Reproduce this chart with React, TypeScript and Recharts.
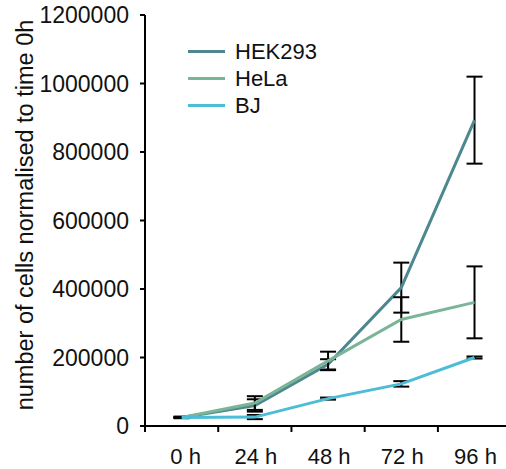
import React from "react";
import { LineChart, Line, XAxis, YAxis, ErrorBar } from "recharts";

const categories = ["0 h", "24 h", "48 h", "72 h", "96 h"];
const hek293 = [25000, 60000, 180000, 404000, 893000];
const hek293Err = [2000, 18000, 15000, 73000, 127000];
const hela = [25000, 67000, 190000, 311000, 361000];
const helaErr = [2000, 20000, 27000, 65000, 105000];
const bj = [25000, 26000, 80000, 123000, 200000];
const bjErr = [1000, 6000, 3000, 8000, 3000];
const yTicks = [0, 200000, 400000, 600000, 800000, 1000000, 1200000];

const series = [
  { key: "hek293", name: "HEK293", color: "#4d8790" },
  { key: "hela", name: "HeLa", color: "#7ab596" },
  { key: "bj", name: "BJ", color: "#4cbcd7" },
];

const data = categories.map((c, i) => ({
  x: i + 0.5,
  label: c,
  hek293: hek293[i],
  hek293Err: hek293Err[i],
  hela: hela[i],
  helaErr: helaErr[i],
  bj: bj[i],
  bjErr: bjErr[i],
}));

const WIDTH = 506;
const HEIGHT = 469;
const AXIS_X = 145;
const X_MAX = 4.93;
const FONT = "'Liberation Sans', Arial, sans-serif";
const halfStep = (WIDTH - AXIS_X) / X_MAX / 2;

// tick marks sit on category boundaries, labels in the middle of each category
const XTick = (props: any) => {
  const { x, y, payload } = props;
  const label = categories[payload.value];
  if (!label) return null;
  return (
    <text
      x={x + halfStep + (payload.value === 0 ? 4 : 1)}
      y={y + 30}
      textAnchor="middle"
      fontSize={22}
      fontFamily={FONT}
      fill="#111"
    >
      {label}
    </text>
  );
};

const ChartLegend = () => (
  <div
    style={{
      position: "absolute",
      left: 188,
      top: 38,
      fontFamily: FONT,
      fontSize: 22,
      color: "#111",
    }}
  >
    {series.map((s) => (
      <div key={s.key} style={{ display: "flex", alignItems: "center", height: 27 }}>
        <div style={{ width: 37, height: 3, background: s.color, marginRight: 10 }} />
        <span>{s.name}</span>
      </div>
    ))}
  </div>
);

export default function App() {
  return (
    <div style={{ position: "absolute", left: 0, top: 0, width: WIDTH, height: HEIGHT, overflow: "hidden", background: "#fff" }}>
      <LineChart width={WIDTH} height={HEIGHT} data={data} margin={{ top: 15, right: 0, left: 0, bottom: 0 }}>
        <XAxis
          dataKey="x"
          type="number"
          domain={[0, X_MAX]}
          ticks={[0, 1, 2, 3, 4]}
          tick={<XTick />}
          tickSize={6}
          height={43}
          stroke="#000"
          strokeWidth={2}
          allowDataOverflow
        />
        <YAxis
          domain={[0, 1200000]}
          ticks={yTicks}
          width={AXIS_X}
          tickSize={5}
          tickMargin={11}
          stroke="#000"
          strokeWidth={2}
          tick={{ fontSize: 23, fontFamily: FONT, fill: "#111" }}
          label={() => (
            <text
              transform="translate(25, 215) rotate(-90)"
              textAnchor="middle"
              dominantBaseline="central"
              fontSize={23.5}
              fontFamily={FONT}
              fill="#111"
            >
              number of cells normalised to time 0h
            </text>
          )}
        />
        {series.map((s) => (
          <Line
            key={s.key}
            dataKey={s.key}
            name={s.name}
            stroke={s.color}
            strokeWidth={3}
            dot={false}
            activeDot={false}
            type="linear"
            isAnimationActive={false}
          >
            <ErrorBar dataKey={s.key + "Err"} direction="y" width={8} stroke="#000" strokeWidth={2} />
          </Line>
        ))}
      </LineChart>
      <ChartLegend />
    </div>
  );
}
